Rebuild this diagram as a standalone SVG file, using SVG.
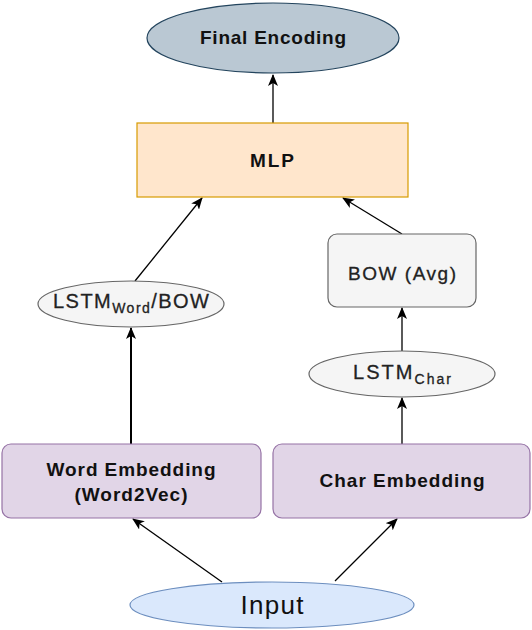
<svg xmlns="http://www.w3.org/2000/svg" width="532" height="630" viewBox="0 0 532 630">
<style>
.t{font-family:"Liberation Sans",Arial,sans-serif;fill:#111;text-anchor:middle}
.b{font-weight:bold}
.g{fill:#222;stroke:#222;stroke-width:0.3}
.edge{stroke:#000;stroke-width:1.3;fill:none;marker-end:url(#arr)}
</style>
<defs>
<marker id="arr" markerUnits="userSpaceOnUse" markerWidth="12" markerHeight="10" viewBox="0 0 12 10" refX="11" refY="5" orient="auto">
<path d="M0,0 L12,5 L0,10 L3,5 z" fill="#000"/>
</marker>
</defs>
<rect width="532" height="630" fill="#fff"/>
<g id="connectors">
<line class="edge" x1="273" y1="123" x2="273" y2="75"/>
<line class="edge" x1="135" y1="281" x2="202" y2="198"/>
<line class="edge" x1="402" y1="234" x2="343" y2="198"/>
<line class="edge" x1="402" y1="351" x2="402" y2="308"/>
<line class="edge" style="stroke-width:2" x1="131" y1="444" x2="131" y2="328"/>
<line class="edge" x1="402" y1="444" x2="402" y2="398"/>
<line class="edge" x1="222" y1="582" x2="133" y2="519"/>
<line class="edge" x1="335" y1="581" x2="397" y2="519"/>
</g>
<g id="final-encoding">
<ellipse cx="273" cy="38" rx="126" ry="35" fill="#bac8d3" stroke="#23445d" stroke-width="1.2"/>
<text class="t b" x="273" y="44" font-size="19" textLength="146" lengthAdjust="spacing">Final Encoding</text>
</g>
<g id="mlp">
<rect x="137" y="123" width="271" height="74" fill="#ffe6cc" stroke="#d79b00" stroke-width="1.2"/>
<text class="t b" x="272" y="167" font-size="19" textLength="44" lengthAdjust="spacing">MLP</text>
</g>
<g id="lstm-word">
<ellipse cx="131" cy="304" rx="93" ry="23" fill="#f5f5f5" stroke="#666" stroke-width="1.2"/>
<text class="t g" x="131" y="308" font-size="20" textLength="156" lengthAdjust="spacing">LSTM<tspan font-size="14" dy="5">Word</tspan><tspan dy="-5">/BOW</tspan></text>
</g>
<g id="bow-avg">
<rect x="328" y="234" width="148" height="73" rx="9" fill="#f5f5f5" stroke="#666" stroke-width="1.2"/>
<text class="t g" x="402" y="280" font-size="19" textLength="108" lengthAdjust="spacing">BOW (Avg)</text>
</g>
<g id="lstm-char">
<ellipse cx="402" cy="374" rx="93" ry="23" fill="#f5f5f5" stroke="#666" stroke-width="1.2"/>
<text class="t g" x="402" y="379" font-size="20" textLength="98" lengthAdjust="spacing">LSTM<tspan font-size="14" dy="5">Char</tspan></text>
</g>
<g id="word-embedding">
<rect x="2" y="444" width="259" height="74" rx="9" fill="#e1d5e7" stroke="#9673a6" stroke-width="1.2"/>
<text class="t b" x="131" y="476" font-size="19" textLength="169" lengthAdjust="spacing">Word Embedding</text>
<text class="t b" x="131" y="501" font-size="19" textLength="113" lengthAdjust="spacing">(Word2Vec)</text>
</g>
<g id="char-embedding">
<rect x="273" y="444" width="257" height="74" rx="9" fill="#e1d5e7" stroke="#9673a6" stroke-width="1.2"/>
<text class="t b" x="402" y="487" font-size="19" textLength="165" lengthAdjust="spacing">Char Embedding</text>
</g>
<g id="input">
<ellipse cx="272" cy="605" rx="142" ry="23" fill="#dae8fc" stroke="#6c8ebf" stroke-width="1.2"/>
<text class="t" x="272" y="614" font-size="26" textLength="63" lengthAdjust="spacing">Input</text>
</g>
</svg>
